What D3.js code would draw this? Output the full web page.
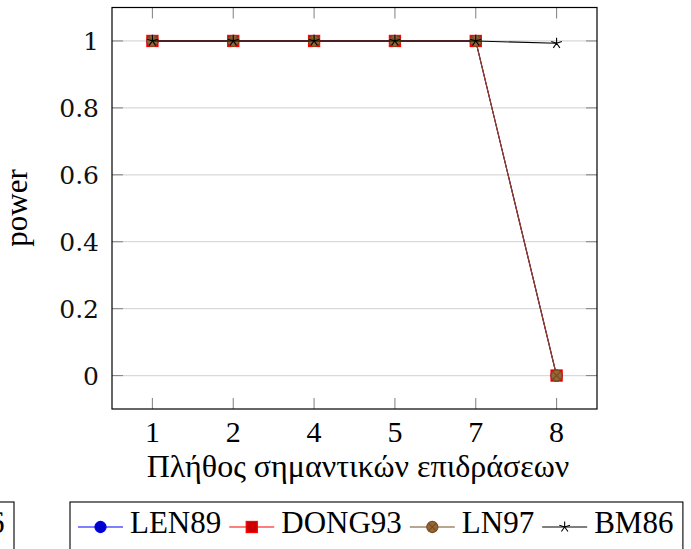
<!DOCTYPE html>
<html>
<head>
<meta charset="utf-8">
<script src="https://cdn.jsdelivr.net/npm/d3@7"></script>
<style>
  html, body { margin: 0; padding: 0; background: #fff; }
  svg { display: block; }
</style>
</head>
<body>
<svg id="chart" width="691" height="549"></svg>
<script>
const categories = ["1", "2", "4", "5", "7", "8"];
const seriesNames = ["LEN89", "DONG93", "LN97", "BM86"];
const LEN89  = [1, 1, 1, 1, 1, 0];
const DONG93 = [1, 1, 1, 1, 1, 0];
const LN97   = [1, 1, 1, 1, 1, 0];
const BM86   = [1, 1, 1, 1, 1, 0.993];
const yTicks = [0, 0.2, 0.4, 0.6, 0.8, 1];
const yTickLabels = ["0", "0.2", "0.4", "0.6", "0.8", "1"];
const xLabel = "Πλήθος σημαντικών επιδράσεων";
const yLabel = "power";

const styles = [
  { line: "#0000ff", fill: "#0000cc", stroke: "#0000ff", mark: "circle" },
  { line: "#ff0000", fill: "#cc0000", stroke: "#ff0000", mark: "square" },
  { line: "#734d26", fill: "#996633", stroke: "#734d26", mark: "otimes" },
  { line: "#000000", fill: "none", stroke: "#000000", mark: "star" }
];
const seriesValues = [LEN89, DONG93, LN97, BM86];
const serif = "'Liberation Serif', 'Times New Roman', serif";

const svg = d3.select("#chart");
const L = 112, R = 597, T = 7.5, B = 409;

const x = d3.scalePoint().domain(categories).range([L, R]).padding(0.5);
const y = d3.scaleLinear().domain([-0.1, 1.1]).range([B, T]);

// grid
svg.append("g").selectAll("line").data(yTicks).join("line")
  .attr("x1", L).attr("x2", R)
  .attr("y1", d => y(d)).attr("y2", d => y(d))
  .attr("stroke", "#d9d9d9").attr("stroke-width", 1.2);

// ticks inward
const tickLen = 11;
const tg = svg.append("g").attr("stroke", "#8a8a8a").attr("stroke-width", 1.1);
yTicks.forEach(v => {
  tg.append("line").attr("x1", L).attr("x2", L + tickLen).attr("y1", y(v)).attr("y2", y(v));
  tg.append("line").attr("x1", R).attr("x2", R - tickLen).attr("y1", y(v)).attr("y2", y(v));
});
categories.forEach(c => {
  tg.append("line").attr("x1", x(c)).attr("x2", x(c)).attr("y1", B).attr("y2", B - tickLen);
  tg.append("line").attr("x1", x(c)).attr("x2", x(c)).attr("y1", T).attr("y2", T + tickLen);
});

// frame
svg.append("rect").attr("x", L).attr("y", T).attr("width", R - L).attr("height", B - T)
  .attr("fill", "none").attr("stroke", "#000").attr("stroke-width", 1.2);

// tick labels
svg.append("g").selectAll("text").data(yTicks).join("text")
  .attr("x", 99).attr("y", d => y(d)).attr("dy", "0.36em")
  .attr("text-anchor", "end")
  .attr("font-family", "DejaVu Serif").attr("font-size", 25)
  .attr("fill", "#111")
  .text((d, i) => yTickLabels[i]);

svg.append("g").selectAll("text").data(categories).join("text")
  .attr("x", d => x(d)).attr("y", 442)
  .attr("text-anchor", "middle")
  .attr("font-family", serif).attr("font-size", 30)
  .text(d => d);

// axis labels
svg.append("text").attr("x", 358).attr("y", 477)
  .attr("text-anchor", "middle")
  .attr("font-family", serif).attr("font-size", 32)
  .text(xLabel);

svg.append("text").attr("transform", "translate(27,208) rotate(-90)")
  .attr("text-anchor", "middle")
  .attr("font-family", serif).attr("font-size", 31)
  .text(yLabel);

// markers
const MR = 5.6;
function drawMark(g, cx, cy, st) {
  if (st.mark === "circle") {
    g.append("circle").attr("cx", cx).attr("cy", cy).attr("r", MR)
      .attr("fill", st.fill).attr("stroke", st.stroke).attr("stroke-width", 1.1);
  } else if (st.mark === "square") {
    g.append("rect").attr("x", cx - MR).attr("y", cy - MR).attr("width", 2 * MR).attr("height", 2 * MR)
      .attr("fill", st.fill).attr("stroke", st.stroke).attr("stroke-width", 1.1);
  } else if (st.mark === "otimes") {
    g.append("circle").attr("cx", cx).attr("cy", cy).attr("r", MR)
      .attr("fill", st.fill).attr("stroke", st.stroke).attr("stroke-width", 1.1);
    const k = MR * Math.SQRT1_2;
    g.append("path")
      .attr("d", `M${cx - k},${cy - k}L${cx + k},${cy + k}M${cx - k},${cy + k}L${cx + k},${cy - k}`)
      .attr("stroke", st.stroke).attr("stroke-width", 1.1);
  } else if (st.mark === "star") {
    let d = "";
    for (let i = 0; i < 5; i++) {
      const a = (90 + i * 72) * Math.PI / 180;
      d += `M${cx},${cy}L${cx + MR * Math.cos(a)},${cy - MR * Math.sin(a)}`;
    }
    g.append("path").attr("d", d).attr("stroke", st.stroke).attr("stroke-width", 1.1).attr("fill", "none");
  }
}

const lineGen = d3.line().x((d, i) => x(categories[i])).y(d => y(d));
seriesValues.forEach((vals, si) => {
  const st = styles[si];
  const g = svg.append("g");
  g.append("path").attr("d", lineGen(vals)).attr("fill", "none")
    .attr("stroke", st.line).attr("stroke-width", 1.1);
  vals.forEach((v, i) => drawMark(g, x(categories[i]), y(v), st));
});

// legend
function drawLegend(dx) {
  const lg = svg.append("g").attr("transform", `translate(${dx},0)`);
  const box = lg.append("rect").attr("y", 502).attr("height", 80)
    .attr("fill", "#fff").attr("stroke", "#000").attr("stroke-width", 1.1);
  let cx = 78;
  const ly = 527;
  seriesNames.forEach((name, i) => {
    const st = styles[i];
    lg.append("line").attr("x1", cx).attr("x2", cx + 45).attr("y1", ly).attr("y2", ly)
      .attr("stroke", st.line).attr("stroke-width", 1.1);
    drawMark(lg, cx + 22.5, ly, st);
    const t = lg.append("text").attr("x", cx + 52).attr("y", 532.5)
      .attr("font-family", serif).attr("font-size", 31)
      .text(name);
    const w = t.node().getComputedTextLength();
    cx = cx + 52 + w + 8;
  });
  box.attr("x", 70).attr("width", cx - 8 + 9.5 - 70);
  return cx - 8 + 9.5;
}
const right = drawLegend(0);
drawLegend(14 - right);
</script>
</body>
</html>
